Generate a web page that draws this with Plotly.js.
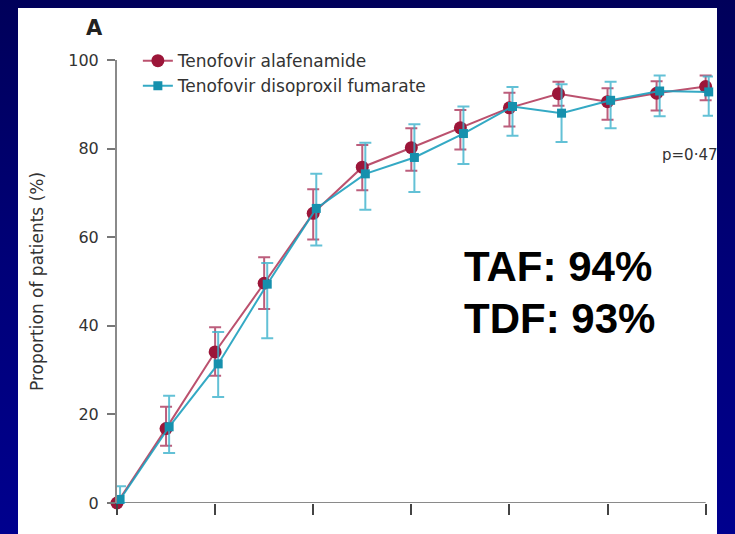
<!DOCTYPE html>
<html>
<head>
<meta charset="utf-8">
<script src="https://cdn.plot.ly/plotly-3.0.1.min.js"></script>
<style>
  html, body { margin: 0; padding: 0; }
  body {
    width: 735px; height: 534px; overflow: hidden; position: relative;
    background: linear-gradient(to bottom, #00005a 0%, #000078 50%, #00008e 100%);
  }
  #chart { position: absolute; left: 18px; top: 8px; width: 699px; height: 526px; }
</style>
</head>
<body>
<div id="chart"></div>
<script>
// Weeks of follow-up (x positions of the visits)
const weeks = [0, 4, 8, 12, 16, 20, 24, 28, 32, 36, 40, 44, 48];
const xTicks = [0, 8, 16, 24, 32, 40, 48];
const yTicks = [0, 20, 40, 60, 80, 100];

// Tenofovir alafenamide (TAF): proportion (%) with 95% CI bounds
const tafValue = [0, 16.8, 34.1, 49.6, 65.4, 75.8, 80.2, 84.7, 89.2, 92.4, 90.6, 92.5, 94.0];
const tafUpper = [0, 21.7, 39.7, 55.5, 70.8, 80.8, 84.6, 88.7, 92.6, 95.1, 93.6, 95.2, 96.5];
const tafLower = [0, 12.9, 28.7, 43.8, 59.5, 70.6, 75.0, 79.8, 85.0, 89.7, 86.5, 88.6, 90.9];

// Tenofovir disoproxil fumarate (TDF)
const tdfValue = [0.8, 17.2, 31.4, 49.4, 66.5, 74.3, 78.0, 83.4, 89.5, 88.0, 90.9, 93.0, 92.8];
const tdfUpper = [3.8, 24.2, 38.6, 54.2, 74.3, 81.3, 85.5, 89.5, 93.9, 94.5, 95.1, 96.5, 96.3];
const tdfLower = [0, 11.3, 23.9, 37.2, 58.1, 66.2, 70.2, 76.5, 82.9, 81.5, 84.6, 87.3, 87.4];

const seriesNames = ['Tenofovir alafenamide', 'Tenofovir disoproxil fumarate'];

const FONT = 'DejaVu Sans, Arial, sans-serif';
const dodge = 0.25; // slight horizontal dodge of the TDF series, as in the figure
const xEnd = xTicks[xTicks.length - 1];

const plus = (v, u) => v.map((x, i) => +(u[i] - x).toFixed(2));
const minus = (v, l) => v.map((x, i) => +(x - l[i]).toFixed(2));

const taf = {
  x: weeks, y: tafValue, name: seriesNames[0], type: 'scatter', mode: 'lines+markers',
  cliponaxis: false,
  line: { color: 'rgba(175,50,85,0.85)', width: 2 },
  marker: { symbol: 'circle', size: 13, color: '#9c1639' },
  error_y: { type: 'data', symmetric: false, array: plus(tafValue, tafUpper), arrayminus: minus(tafValue, tafLower),
             color: 'rgba(165,40,80,0.75)', thickness: 2, width: 6 }
};
const tdf = {
  x: weeks.map(w => w + dodge), y: tdfValue, name: seriesNames[1], type: 'scatter', mode: 'lines+markers',
  cliponaxis: false,
  line: { color: 'rgba(30,160,190,0.9)', width: 2 },
  marker: { symbol: 'square', size: 9, color: '#1690ad' },
  error_y: { type: 'data', symmetric: false, array: plus(tdfValue, tdfUpper), arrayminus: minus(tdfValue, tdfLower),
             color: 'rgba(60,178,204,0.8)', thickness: 2, width: 6 }
};

const layout = {
  width: 699, height: 526,
  paper_bgcolor: '#ffffff', plot_bgcolor: '#ffffff',
  margin: { l: 99, r: 4, t: 52, b: 31 },
  font: { family: FONT, color: '#333' },
  showlegend: true,
  legend: {
    x: 0.035, y: 1.038, xanchor: 'left', yanchor: 'top',
    bgcolor: 'rgba(0,0,0,0)', font: { family: FONT, size: 17, color: '#333' },
    traceorder: 'normal'
  },
  xaxis: {
    range: [0, 48.6], tickvals: xTicks, showticklabels: false,
    ticks: 'outside', ticklen: 11, tickwidth: 2, tickcolor: '#444',
    showline: false,
    showgrid: false, zeroline: false, fixedrange: true
  },
  yaxis: {
    range: [0, 100], tickvals: yTicks,
    ticks: 'outside', ticklen: 8, tickwidth: 2, tickcolor: '#777',
    ticklabelstandoff: 5,
    tickfont: { family: FONT, size: 16, color: '#333' },
    showline: true, linecolor: '#8a8a8a', linewidth: 2,
    showgrid: false, zeroline: false, fixedrange: true,
    title: { text: 'Proportion of patients (%)', standoff: 20, font: { family: FONT, size: 17, color: '#333' } }
  },
  shapes: [
    { type: 'line', xref: 'x', yref: 'y', x0: 0, x1: xEnd, y0: 0, y1: 0,
      line: { color: '#8a8a8a', width: 2 }, layer: 'below' }
  ],
  annotations: [
    { text: '<b>A</b>', x: -0.037, y: 1.072, xref: 'paper', yref: 'paper', showarrow: false,
      xanchor: 'center', yanchor: 'middle', font: { family: FONT, size: 21, color: '#222' } },
    { text: 'p=0·47', x: 1.012, y: 0.7856, xref: 'paper', yref: 'paper', showarrow: false,
      xanchor: 'right', yanchor: 'middle', font: { family: FONT, size: 15, color: '#333' } },
    { text: '<b>TAF: 94%</b>', x: 28.1, y: 53.4, xref: 'x', yref: 'y', showarrow: false,
      xanchor: 'left', yanchor: 'middle', font: { family: 'Liberation Sans, Arial, sans-serif', size: 42, color: '#000' } },
    { text: '<b>TDF: 93%</b>', x: 28.1, y: 41.7, xref: 'x', yref: 'y', showarrow: false,
      xanchor: 'left', yanchor: 'middle', font: { family: 'Liberation Sans, Arial, sans-serif', size: 42, color: '#000' } }
  ]
};

Plotly.newPlot('chart', [taf, tdf], layout, { displayModeBar: false, staticPlot: true });
</script>
</body>
</html>
